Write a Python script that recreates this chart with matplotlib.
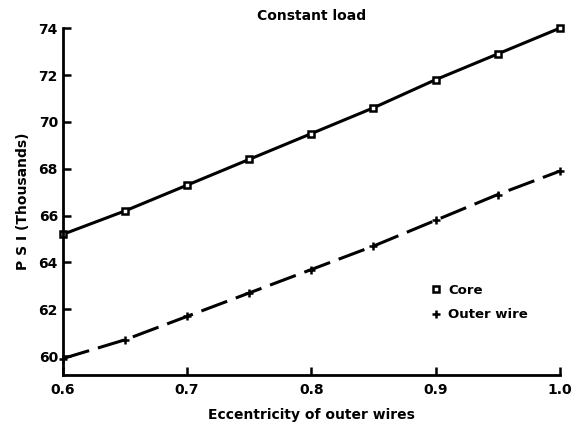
import matplotlib
matplotlib.use("Agg")
import matplotlib.pyplot as plt
import numpy as np

ecc = [0.6, 0.65, 0.7, 0.75, 0.8, 0.85, 0.9, 0.95, 1.0]
core = [65.2, 66.2, 67.3, 68.4, 69.5, 70.6, 71.8, 72.9, 74.0]
outer = [59.9, 60.7, 61.7, 62.7, 63.7, 64.7, 65.8, 66.9, 67.9]
xticks = [0.6, 0.7, 0.8, 0.9, 1.0]
yticks = [60, 62, 64, 66, 68, 70, 72, 74]

plt.rcParams['font.family'] = 'DejaVu Sans'
plt.rcParams['font.weight'] = 'bold'

fig = plt.figure(figsize=(5.76, 4.33), dpi=100)
ax = fig.add_axes([0.109, 0.134, 0.863, 0.801])

ax.plot(ecc, core, color='black', lw=2.2, marker='s', ms=5,
        mfc='white', mec='black', mew=1.8, label='Core', clip_on=False)
ax.plot(ecc, outer, color='black', lw=2.2, dashes=(9, 3), marker='+',
        ms=6, mew=1.8, label='Outer wire', clip_on=False)

ax.set_xlim(0.6, 1.0)
ax.set_ylim(59.2, 74)
ax.set_xticks(xticks)
ax.set_xticklabels(['0.6', '0.7', '0.8', '0.9', '1.0'])
ax.set_yticks(yticks)
ax.tick_params(direction='in', length=6, width=1.8, labelsize=10)
ax.tick_params(axis='x', pad=6)
for s in ['top', 'right']:
    ax.spines[s].set_visible(False)
for s in ['left', 'bottom']:
    ax.spines[s].set_linewidth(2)

ax.set_title('Constant load', fontsize=10, fontweight='bold', pad=6)
ax.set_xlabel('Eccentricity of outer wires', fontsize=10, fontweight='bold', labelpad=8)
ax.set_ylabel('P S I (Thousands)', fontsize=10, fontweight='bold', labelpad=6)
ax.legend(loc='lower right', bbox_to_anchor=(0.96, 0.12), frameon=False,
          handlelength=0.8, handletextpad=0.5, labelspacing=0.9,
          prop={'weight': 'bold', 'size': 9.5})
leg = ax.get_legend()
for line in leg.get_lines():
    line.set_linestyle('none')

fig.savefig('out.png', dpi=100)
